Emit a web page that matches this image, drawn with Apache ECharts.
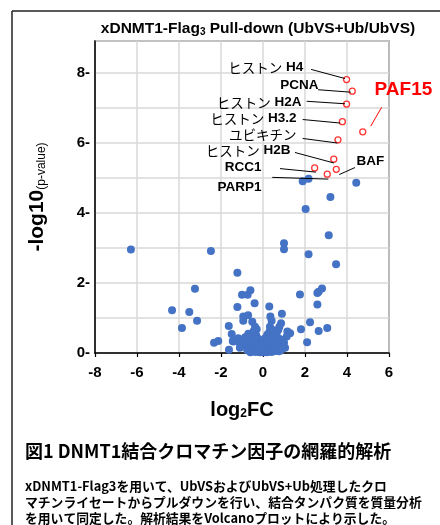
<!DOCTYPE html>
<html><head><meta charset="utf-8">
<script src="https://cdn.jsdelivr.net/npm/echarts@6/dist/echarts.min.js"></script>
<style>html,body{margin:0;padding:0;background:#fff}#c{width:440px;height:525px}</style>
</head><body><div id="c"></div>
<script>
// ---- data ----
const xTicks = [-8, -6, -4, -2, 0, 2, 4, 6];
const yTicks = [0, 2, 4, 6, 8];
const bluePoints = [
  [-6.29,2.95],[-2.48,2.91],[-3.24,1.83],[-4.33,1.22],[-3.51,1.17],[-3.14,0.92],[-3.86,0.71],[-2.33,0.29],[-2.13,0.34],
  [-1.22,2.29],[-1.63,0.77],[-1.62,0.09],[-1.49,0.54],[-1.22,1.31],[-1.0,1.66],[-0.73,1.66],[-0.6,1.79],[-0.4,1.42],
  [-0.94,1.04],[-0.71,1.08],[-0.94,0.92],[-0.51,0.89],[-0.38,0.75],[-0.3,0.68],[-1.41,0.33],[-1.18,0.42],[-1.1,0.28],[-1.44,0.34],[-1.1,0.15],
  [0.3,1.33],[0.35,1.04],[0.41,0.92],[0.33,0.75],[0.44,0.66],[0.9,1.12],[0.86,0.85],[0.78,0.75],[0.73,0.66],[1.16,0.61],[1.29,0.56],[1.13,0.47],[0.97,0.18],[0.84,0.07],
  [1.0,3.13],[1.0,2.96],[1.76,1.67],[1.81,0.68],[2.1,0.31],[2.24,0.88],[2.17,2.82],[2.03,4.11],[1.89,4.9],[2.17,4.97],[3.21,4.45],[4.44,4.86],[3.13,3.36],[3.48,2.53],
  [2.59,1.71],[2.65,1.75],[2.81,1.84],[2.59,1.38],[2.65,0.63],[3.06,0.71],
  [-0.85,0.45],[-0.8,0.3],[-0.78,0.18],[-0.75,0.08],[-0.7,0.55],[-0.68,0.38],[-0.65,0.22],[-0.62,0.12],[-0.6,0.02],[-0.55,0.48],
  [-0.52,0.32],[-0.5,0.15],[-0.48,0.05],[-0.45,0.62],[-0.42,0.4],[-0.4,0.25],[-0.38,0.1],[-0.35,0.03],[-0.32,0.5],[-0.3,0.3],
  [-0.28,0.18],[-0.25,0.06],[-0.22,0.4],[-0.2,0.22],[-0.18,0.12],[-0.15,0.02],[-0.12,0.33],[-0.1,0.16],[-0.08,0.07],[-0.05,0.25],
  [-0.02,0.1],[0.0,0.02],[0.03,0.3],[0.05,0.15],[0.08,0.05],[0.1,0.42],[0.12,0.22],[0.15,0.1],[0.18,0.02],[0.2,0.52],
  [0.22,0.33],[0.25,0.18],[0.28,0.07],[0.3,0.6],[0.32,0.4],[0.35,0.25],[0.38,0.12],[0.4,0.03],[0.45,0.5],[0.48,0.3],
  [0.5,0.15],[0.52,0.05],[0.55,0.42],[0.58,0.22],[0.6,0.1],[0.65,0.55],[0.68,0.32],[0.7,0.15],[0.75,0.05],[0.8,0.4],
  [0.85,0.22],[0.9,0.12],[1.0,0.3],[1.05,0.15]
];
const redNames  = ['ヒストン H4','PCNA','ヒストン H2A','ヒストン H3.2','PAF15','ユビキチン','ヒストン H2B','RCC1','BAF','PARP1'];
const redX      = [3.98, 4.25, 3.98, 3.78, 4.75, 3.57, 3.37, 2.46, 3.49, 3.06];
const redY      = [7.80, 7.47, 7.10, 6.60, 6.31, 6.08, 5.53, 5.28, 5.24, 5.10];
// annotation label anchors (data units) and leader lines
const labelX    = [1.99, 2.71, 1.90, 1.67, 5.24, 1.67, 1.38, 0.00, 4.38, 0.00];
const labelY    = [8.14, 7.63, 7.14, 6.69, 7.51, 6.23, 5.77, 5.31, 5.46, 4.74];
const lineStart = [[2.29,8.09],[2.62,7.51],[2.08,7.18],[1.89,6.66],[5.65,7.01],[1.89,6.12],[1.52,5.72],[0.81,5.26],[4.38,5.29],[0.44,5.01]];
const lineEnd   = [[3.90,7.83],[4.18,7.44],[3.90,7.11],[3.67,6.56],[5.13,6.47],[3.54,5.99],[3.38,5.42],[2.52,5.16],[3.63,5.09],[3.11,4.96]];
const titleParts = ['xDNMT1-Flag', '3', ' Pull-down (UbVS+Ub/UbVS)'];
const captionTitle = '図1 DNMT1結合クロマチン因子の網羅的解析';
const captionLines = [
  'xDNMT1-Flag3を用いて、UbVSおよびUbVS+Ub処理したクロ',
  'マチンライセートからプルダウンを行い、結合タンパク質を質量分析',
  'を用いて同定した。解析結果をVolcanoプロットにより示した。'
];

// ---- chart ----
const LAT = "'Liberation Sans', Arial, 'Noto Sans CJK JP', sans-serif";
const JP = "'Noto Sans CJK JP', sans-serif";
const chart = echarts.init(document.getElementById('c'), null, {renderer: 'canvas'});

function richName(n) {
  if (n === 'PAF15') return '{r|PAF15}';
  const i = n.indexOf(' ');
  if (i < 0) {
    return /^[A-Za-z0-9]+$/.test(n) ? '{b|' + n + '}' : '{j|' + n + '}';
  }
  return '{j|' + n.slice(0, i) + '}{b| ' + n.slice(i + 1) + '}';
}

const annData = redNames.map((n, i) => ({
  value: [labelX[i], labelY[i]],
  name: n,
  label: { position: (n === 'BAF' || n === 'PAF15') ? 'right' : 'left' }
}));

const leaderData = lineStart.map((s, i) => [
  { coord: s, lineStyle: { color: redNames[i] === 'PAF15' ? '#ff0000' : '#000', width: 1 } },
  { coord: lineEnd[i] }
]);

chart.setOption({
  animation: false,
  grid: { left: 95, right: 51, top: 41, bottom: 172, show: true, borderColor: '#000', borderWidth: 1.2, backgroundColor: 'transparent' },
  xAxis: {
    type: 'value', min: xTicks[0], max: xTicks[xTicks.length - 1], interval: 2,
    axisLine: { show: true, onZero: false, lineStyle: { color: '#000', width: 1.5 } },
    axisTick: { show: true, length: 4, lineStyle: { color: '#000', width: 1.2 } },
    axisLabel: { color: '#000', fontSize: 15, fontWeight: 'bold', fontFamily: LAT, margin: 12 },
    splitLine: { show: true, lineStyle: { color: '#d9d9d9', width: 1.5 } },
    name: '{a|log}{s|2}{a|FC}', nameLocation: 'middle', nameGap: 47,
    nameTextStyle: { rich: {
      a: { fontSize: 20, fontWeight: 'bold', fontFamily: LAT, color: '#000' },
      s: { fontSize: 12, fontWeight: 'bold', fontFamily: LAT, color: '#000', verticalAlign: 'bottom', padding: [8, 0, 0, 0] }
    } }
  },
  yAxis: {
    type: 'value', min: 0, max: 8.9, interval: 1,
    axisLine: { show: true, onZero: false, lineStyle: { color: '#000', width: 1.5 } },
    axisTick: { show: false },
    axisLabel: { color: '#000', fontSize: 15, fontWeight: 'bold', fontFamily: LAT, margin: 5,
      formatter: v => (yTicks.indexOf(v) >= 0 ? v + '-' : '') },
    splitLine: { show: true, lineStyle: { color: '#d9d9d9', width: 1.5 } },
    name: '{a|-log10}{s|(p-value)}', nameLocation: 'middle', nameRotate: 90, nameGap: 47,
    nameTextStyle: { rich: {
      a: { fontSize: 21, fontWeight: 'bold', fontFamily: LAT, color: '#000' },
      s: { fontSize: 12, fontFamily: LAT, color: '#000', verticalAlign: 'bottom', padding: [6, 0, 0, 0] }
    } }
  },
  series: [
    {
      type: 'scatter', data: bluePoints, symbolSize: 8, z: 3,
      itemStyle: { color: '#4472c4', opacity: 1 }, silent: true
    },
    {
      type: 'scatter', data: redX.map((x, i) => [x, redY[i]]), symbolSize: 6, z: 4,
      itemStyle: { color: '#fff', borderColor: '#ff0000', borderWidth: 1.3 }, silent: true
    },
    {
      type: 'scatter', data: annData, symbol: 'circle', symbolSize: 1, z: 5, silent: true,
      itemStyle: { color: 'rgba(0,0,0,0)' },
      label: {
        show: true, distance: 1, color: '#000', textBorderWidth: 0, opacity: 1,
        formatter: p => richName(p.name),
        rich: {
          j: { fontSize: 13.5, fontFamily: JP, fontWeight: 'normal', color: '#000', textBorderWidth: 0 },
          b: { fontSize: 13.5, fontFamily: LAT, fontWeight: 'bold', color: '#000', textBorderWidth: 0 },
          r: { fontSize: 19, fontFamily: LAT, fontWeight: 'bold', color: '#ff0000', textBorderWidth: 0 }
        }
      },
      markLine: {
        silent: true, symbol: ['none', 'none'], label: { show: false },
        lineStyle: { type: 'solid', color: '#000', width: 1 },
        data: leaderData
      }
    }
  ],
  graphic: [
    { type: 'line', shape: { x1: 12, y1: 11, x2: 12, y2: 525 }, style: { stroke: '#222', lineWidth: 1.5 } },
    { type: 'line', shape: { x1: 12, y1: 11, x2: 440, y2: 11 }, style: { stroke: '#222', lineWidth: 1.5 } },
    { type: 'text', x: 258, y: 29, style: {
        text: '{a|' + titleParts[0] + '}{s|' + titleParts[1] + '}{a|' + titleParts[2] + '}',
        textAlign: 'center', textVerticalAlign: 'middle',
        rich: {
          a: { fontSize: 15.5, fontWeight: 'bold', fontFamily: LAT, fill: '#000' },
          s: { fontSize: 10, fontWeight: 'bold', fontFamily: LAT, fill: '#000', verticalAlign: 'bottom', padding: [6, 0, 0, 0] }
        } } },
    { type: 'text', x: 25, y: 451, style: { text: captionTitle, font: "bold 18px 'Noto Sans CJK JP', sans-serif", fill: '#000', textAlign: 'left', textVerticalAlign: 'middle' } },
    { type: 'text', x: 25, y: 486, style: { text: captionLines[0], font: "bold 12.8px 'Noto Sans CJK JP', sans-serif", fill: '#000', textAlign: 'left', textVerticalAlign: 'middle' } },
    { type: 'text', x: 25, y: 502, style: { text: captionLines[1], font: "bold 12.8px 'Noto Sans CJK JP', sans-serif", fill: '#000', textAlign: 'left', textVerticalAlign: 'middle' } },
    { type: 'text', x: 25, y: 518, style: { text: captionLines[2], font: "bold 12.8px 'Noto Sans CJK JP', sans-serif", fill: '#000', textAlign: 'left', textVerticalAlign: 'middle' } }
  ]
});
</script></body></html>
